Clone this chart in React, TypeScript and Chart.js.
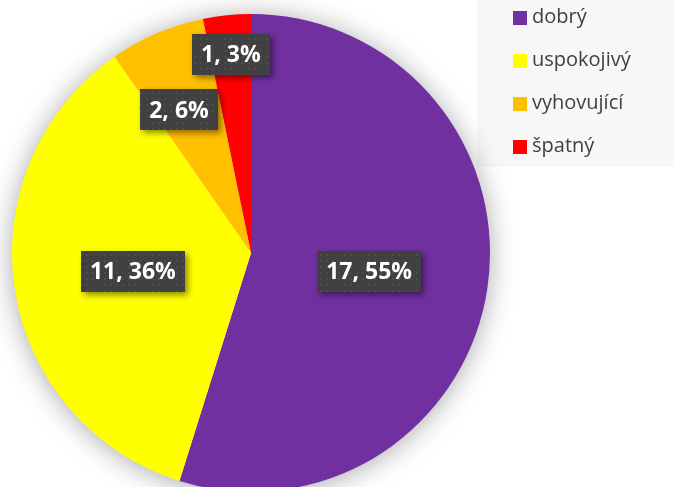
import React, { useEffect, useRef } from "react";
import { Chart, registerables } from "chart.js";

Chart.register(...registerables);

const categories = ["dobrý", "uspokojivý", "vyhovující", "špatný"];
const counts = [17, 11, 2, 1];
const colors = ["#7030A0", "#FFFF00", "#FFC000", "#FF0000"];

function percents(vals: number[]): number[] {
  const total = vals.reduce((a, b) => a + b, 0);
  const raw = vals.map((v) => (v / total) * 100);
  const fl = raw.map((r) => Math.floor(r));
  let rem = 100 - fl.reduce((a, b) => a + b, 0);
  const order = raw.map((r, i) => ({ i, f: r - Math.floor(r) })).sort((a, b) => b.f - a.f);
  for (let k = 0; k < order.length && rem > 0; k++, rem--) fl[order[k].i] += 1;
  return fl;
}

const placement = [
  { r: 0.5, da: 0 },
  { r: 0.5, da: 0 },
  { r: 0.67, da: -3.5 },
  { r: 0.833, da: 0 },
];

const pieShadow = {
  id: "pieShadow",
  beforeDatasetsDraw(chart: any) {
    const meta = chart.getDatasetMeta(0);
    const arc = meta.data[0];
    if (!arc) return;
    const ctx = chart.ctx;
    ctx.save();
    ctx.shadowColor = "rgba(0,0,0,0.36)";
    ctx.shadowBlur = 28;
    ctx.shadowOffsetX = 0;
    ctx.shadowOffsetY = 2;
    ctx.fillStyle = "#ffffff";
    ctx.beginPath();
    ctx.arc(arc.x, arc.y, arc.outerRadius - 1, 0, Math.PI * 2);
    ctx.fill();
    ctx.restore();
  },
};

const legendBox = {
  id: "legendBox",
  beforeDraw(chart: any) {
    const ctx = chart.ctx;
    ctx.save();
    ctx.fillStyle = "#ffffff";
    ctx.fillRect(0, 0, chart.width, chart.height);
    ctx.fillStyle = "#f7f7f7";
    ctx.fillRect(477, 0, chart.width - 477, 167);
    ctx.restore();
  },
  afterDraw(chart: any) {
    const ctx = chart.ctx;
    const labels = chart.data.labels as string[];
    const bg = chart.data.datasets[0].backgroundColor as string[];
    ctx.save();
    ctx.font = '20px "Open Sans"';
    ctx.textBaseline = "middle";
    ctx.textAlign = "left";
    labels.forEach((l, i) => {
      const cy = 18 + i * 43;
      ctx.fillStyle = bg[i];
      ctx.fillRect(513, cy - 7, 14, 14);
      ctx.fillStyle = "#404040";
      ctx.fillText(l, 532, cy - 1);
    });
    ctx.restore();
  },
};

let patternCache: CanvasPattern | null = null;
function getPattern(ctx: CanvasRenderingContext2D) {
  if (patternCache) return patternCache;
  const c = document.createElement("canvas");
  c.width = 6;
  c.height = 6;
  const p = c.getContext("2d")!;
  p.fillStyle = "#404040";
  p.fillRect(0, 0, 6, 6);
  p.fillStyle = "#4c4c4c";
  p.fillRect(2, 2, 2, 2);
  patternCache = ctx.createPattern(c, "repeat");
  return patternCache;
}

const dataLabels = {
  id: "dataLabels",
  afterDatasetsDraw(chart: any) {
    const meta = chart.getDatasetMeta(0);
    const vals = chart.data.datasets[0].data as number[];
    const pcts = percents(vals);
    const ctx = chart.ctx as CanvasRenderingContext2D;
    ctx.save();
    ctx.font = 'bold 23px "Open Sans"';
    ctx.textAlign = "center";
    ctx.textBaseline = "middle";
    meta.data.forEach((arc: any, i: number) => {
      const pl = placement[i];
      const mid = (arc.startAngle + arc.endAngle) / 2 + (pl.da * Math.PI) / 180;
      const d = arc.outerRadius * pl.r;
      const x = arc.x + Math.cos(mid) * d;
      const y = arc.y + Math.sin(mid) * d;
      const text = `${vals[i]}, ${pcts[i]}%`;
      const w = ctx.measureText(text).width + 18;
      const h = 41;
      ctx.save();
      ctx.shadowColor = "rgba(0,0,0,0.45)";
      ctx.shadowBlur = 6;
      ctx.shadowOffsetX = 3;
      ctx.shadowOffsetY = 3;
      ctx.fillStyle = getPattern(ctx) || "#404040";
      ctx.fillRect(Math.round(x - w / 2), Math.round(y - h / 2), Math.round(w), h);
      ctx.restore();
      ctx.fillStyle = "#ffffff";
      ctx.fillText(text, x, y + 1);
    });
    ctx.restore();
  },
};

export default function App() {
  const ref = useRef<HTMLCanvasElement | null>(null);
  useEffect(() => {
    if (!ref.current) return;
    const chart = new Chart(ref.current, {
      type: "pie",
      data: {
        labels: categories,
        datasets: [
          {
            data: counts,
            backgroundColor: colors,
            borderWidth: 0,
          },
        ],
      },
      options: {
        animation: false,
        responsive: false,
        devicePixelRatio: 1,
        layout: { padding: { left: 12, right: 184, top: 14, bottom: 5 } },
        plugins: {
          legend: { display: false },
          tooltip: { enabled: false },
        },
      },
      plugins: [legendBox, pieShadow, dataLabels],
    });
    return () => chart.destroy();
  }, []);
  return (
    <div
      style={{
        position: "fixed",
        left: 0,
        top: 0,
        width: 674,
        height: 487,
        overflow: "hidden",
        background: "#fff",
      }}
    >
      <canvas ref={ref} width={674} height={497} style={{ display: "block" }} />
    </div>
  );
}
